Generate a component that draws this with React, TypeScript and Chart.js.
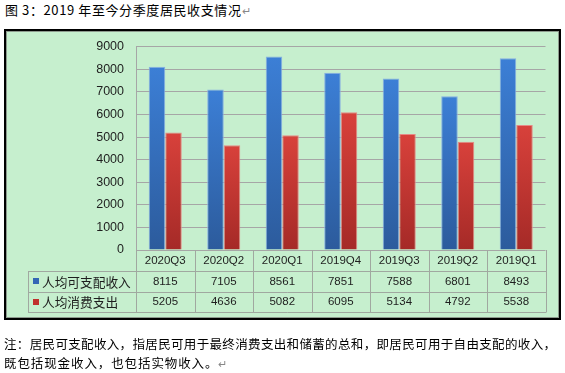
import React, { useEffect, useRef } from "react";
import { Chart, registerables } from "chart.js";

Chart.register(...registerables);

const categories = ["2020Q3", "2020Q2", "2020Q1", "2019Q4", "2019Q3", "2019Q2", "2019Q1"];
const incomeValues = [8115, 7105, 8561, 7851, 7588, 6801, 8493];
const spendingValues = [5205, 4636, 5082, 6095, 5134, 4792, 5538];
const seriesNames = ["人均可支配收入", "人均消费支出"];
const yMin = 0;
const yMax = 9000;
const yStep = 1000;
const titleText = "图 3：2019 年至今分季度居民收支情况";
const noteLine1 = "注：居民可支配收入，指居民可用于最终消费支出和储蓄的总和，即居民可用于自由支配的收入，";
const noteLine2 = "既包括现金收入，也包括实物收入。";

const seriesColors = [
  { top: "#3C7FD6", bottom: "#2C5B9C", edge: "#86AEE3", square: "#3366B5" },
  { top: "#D8413B", bottom: "#A52A27", edge: "#E58A86", square: "#C0302C" },
];

const GRID = "#A6A6A6";
const TABLE_LINE = "#A0A8A0";
const TEXT = "#1E1E1E";

const tablePlugin = {
  id: "dataTable",
  afterDraw(chart: any) {
    const { ctx, chartArea, scales } = chart;
    const xs = scales.x;
    const n = categories.length;
    const left = chartArea.left;
    const right = chartArea.right;
    const cw = (right - left) / n;
    const tableLeft = 28;
    const rows = [chartArea.bottom, 271, 291.5, 312];
    ctx.save();
    ctx.strokeStyle = TABLE_LINE;
    ctx.lineWidth = 1;
    ctx.beginPath();
    for (let i = 0; i <= n; i++) {
      const bx = Math.round(left + i * cw) + 0.5;
      ctx.moveTo(bx, rows[0]);
      ctx.lineTo(bx, rows[3]);
    }
    for (let r = 1; r < rows.length; r++) {
      const y = Math.round(rows[r]) + 0.5;
      ctx.moveTo(tableLeft, y);
      ctx.lineTo(Math.round(right) + 0.5, y);
    }
    ctx.moveTo(tableLeft + 0.5, rows[1]);
    ctx.lineTo(tableLeft + 0.5, rows[3]);
    ctx.stroke();

    ctx.fillStyle = TEXT;
    ctx.textAlign = "center";
    ctx.textBaseline = "middle";
    ctx.font = '11.5px "Liberation Sans", Arial, sans-serif';
    categories.forEach((c, i) => {
      const cx = xs.getPixelForValue(i);
      ctx.fillText(c, cx, (rows[0] + rows[1]) / 2 + 0.5);
      ctx.fillText(String(incomeValues[i]), cx, (rows[1] + rows[2]) / 2 + 0.5);
      ctx.fillText(String(spendingValues[i]), cx, (rows[2] + rows[3]) / 2 + 0.5);
    });

    ctx.textAlign = "left";
    ctx.font = '12.7px "Noto Sans CJK SC", sans-serif';
    seriesNames.forEach((name, k) => {
      const cy = (rows[k + 1] + rows[k + 2]) / 2;
      ctx.fillStyle = seriesColors[k].square;
      ctx.fillRect(33, Math.round(cy) - 3, 6, 6);
      ctx.fillStyle = TEXT;
      ctx.fillText(name, 42, cy + 0.5);
    });
    ctx.restore();
  },
};

function barGradient(k: number) {
  return (context: any) => {
    const chart = context.chart;
    const area = chart.chartArea;
    const c = seriesColors[k];
    if (!area || context.type !== "data") return c.top;
    const v = context.parsed ? context.parsed.y : context.raw;
    const yTop = chart.scales.y.getPixelForValue(v);
    const yBot = chart.scales.y.getPixelForValue(0);
    if (!isFinite(yTop) || !isFinite(yBot) || yTop === yBot) return c.top;
    const g = chart.ctx.createLinearGradient(0, yTop, 0, yBot);
    g.addColorStop(0, c.top);
    g.addColorStop(1, c.bottom);
    return g;
  };
}

export default function App() {
  const ref = useRef<HTMLCanvasElement | null>(null);
  useEffect(() => {
    if (!ref.current) return;
    const chart = new Chart(ref.current, {
      type: "bar",
      data: {
        labels: categories,
        datasets: [
          {
            label: seriesNames[0],
            data: incomeValues,
            backgroundColor: barGradient(0),
            borderColor: seriesColors[0].edge,
            borderWidth: 1,
            barPercentage: 1,
            categoryPercentage: 0.565,
          },
          {
            label: seriesNames[1],
            data: spendingValues,
            backgroundColor: barGradient(1),
            borderColor: seriesColors[1].edge,
            borderWidth: 1,
            barPercentage: 1,
            categoryPercentage: 0.565,
          },
        ],
      },
      options: {
        responsive: false,
        animation: false,
        devicePixelRatio: 1,
        layout: { padding: { left: 0, top: 46.7, right: 19.5, bottom: 123 } },
        plugins: { legend: { display: false }, tooltip: { enabled: false } },
        scales: {
          x: { display: false, offset: true },
          y: {
            min: yMin,
            max: yMax,
            afterFit: (s: any) => {
              s.width = 136;
            },
            ticks: {
              stepSize: yStep,
              padding: 12,
              color: TEXT,
              font: { family: '"Liberation Sans", Arial, sans-serif', size: 12.5 },
              callback: (v: any) => String(v),
            },
            grid: { color: GRID, drawTicks: false, lineWidth: 1 },
            border: { color: GRID, width: 1 },
          },
        },
      },
      plugins: [tablePlugin],
    });
    return () => chart.destroy();
  }, []);

  return (
    <div style={{ position: "absolute", left: 0, top: 0, width: 565, height: 373, background: "#fff" }}>
      <div
        style={{
          position: "absolute",
          left: 5,
          top: 2,
          fontFamily: '"Noto Sans CJK SC", sans-serif',
          fontSize: 13,
          lineHeight: "16px",
          letterSpacing: "0.6px",
          color: "#000",
          whiteSpace: "nowrap",
        }}
      >
        {titleText}
        <span style={{ color: "#888", fontSize: 11 }}>↵</span>
      </div>
      <div
        style={{
          position: "absolute",
          left: 4,
          top: 29,
          width: 557,
          height: 291,
          boxSizing: "border-box",
          border: "2px solid #000",
          background: "#C6EFCE",
          boxShadow: "inset 0 0 0 1px #8E9A8E",
        }}
      />
      <canvas
        ref={ref}
        width={565}
        height={373}
        style={{ position: "absolute", left: 0, top: 0, width: 565, height: 373 }}
      />
      <div
        style={{
          position: "absolute",
          left: 4,
          top: 335,
          width: 552,
          fontFamily: '"Noto Sans CJK SC", sans-serif',
          fontSize: 12.5,
          lineHeight: "17px",
          color: "#000",
          textAlign: "justify",
          textAlignLast: "justify" as any,
          whiteSpace: "nowrap",
        }}
      >
        {noteLine1}
      </div>
      <div
        style={{
          position: "absolute",
          left: 4,
          top: 354,
          fontFamily: '"Noto Sans CJK SC", sans-serif',
          fontSize: 12.5,
          lineHeight: "17px",
          letterSpacing: "0.9px",
          color: "#000",
          whiteSpace: "nowrap",
        }}
      >
        {noteLine2}
        <span style={{ color: "#888", fontSize: 11 }}>↵</span>
      </div>
    </div>
  );
}
